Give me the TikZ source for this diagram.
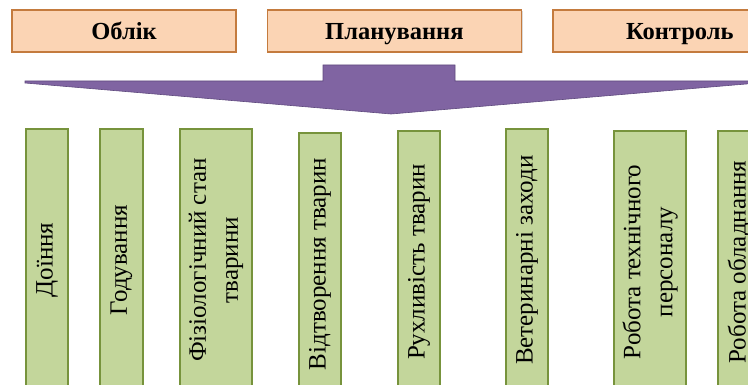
\documentclass[tikz,border=0pt]{standalone}
\usepackage{fontspec}
\setmainfont{Liberation Serif}
\usetikzlibrary{positioning,shadows}

\definecolor{peach}{HTML}{FBD4B4}
\definecolor{peachline}{HTML}{C47B3E}
\definecolor{leaf}{HTML}{C3D69B}
\definecolor{leafline}{HTML}{77933C}
\definecolor{plum}{HTML}{8064A2}
\definecolor{plumline}{HTML}{5F4A7E}

\tikzset{
	topbox/.style={draw=peachline, fill=peach, line width=1.4pt, minimum height=42pt,
			inner sep=0pt, text height=18pt, text depth=0pt,
			font=\fontsize{24.5}{28}\selectfont\bfseries,
			drop shadow={shadow xshift=1.2pt, shadow yshift=-1.2pt, opacity=0.3}},
	itembox/.style={draw=leafline, fill=leaf, line width=1.4pt, rotate=90,
			minimum width=262pt, inner sep=0pt, align=center,
			font=\fontsize{25}{32}\selectfont,
			drop shadow={shadow xshift=1.2pt, shadow yshift=-1.2pt, opacity=0.3}}
}

\begin{document}
\begin{tikzpicture}[x=1pt, y=-1pt]
		% рамка малюнка
		\useasboundingbox (0, 0) rectangle (748, 385);
		\clip (0, 0) rectangle (748, 385);

		% верхній ряд: три функції
		\node[topbox, minimum width=224pt] (oblik) at (124, 31) {Облік};
		\node[topbox, minimum width=254pt, right=30pt of oblik] (plan) {Планування};
		\node[topbox, minimum width=254pt, right=30pt of plan] (kontrol) {Контроль};

		% велика стрілка вниз
		\fill[plum, draw=plumline, line width=0.6pt]
			(25, 81) -- (323, 81) -- (323, 65) -- (455, 65) -- (455, 81) -- (758, 81)
			-- (758, 83) -- (391, 114) -- (25, 83) -- cycle;

		% нижній ряд: об'єкти контролю
		\foreach \name/\x/\w/\y/\txt in {
				doinnia/47/42/129/{Доїння},
				hoduvannia/121.5/43/129/{Годування},
				fizstan/216/72/129/{Фізіологічний стан\\тварини},
				vidtvor/320/42/133/{Відтворення тварин},
				rukhl/419/42/131/{Рухливість тварин},
				veter/527/42/129/{Ветеринарні заходи},
				personal/650/72/131/{Робота технічного\\персоналу},
				obladn/739/42/131/{Робота обладнання}} {
				\node[itembox, minimum height=\w pt] (\name) at (\x, \y + 131) {\txt};
			}
	\end{tikzpicture}
\end{document}
